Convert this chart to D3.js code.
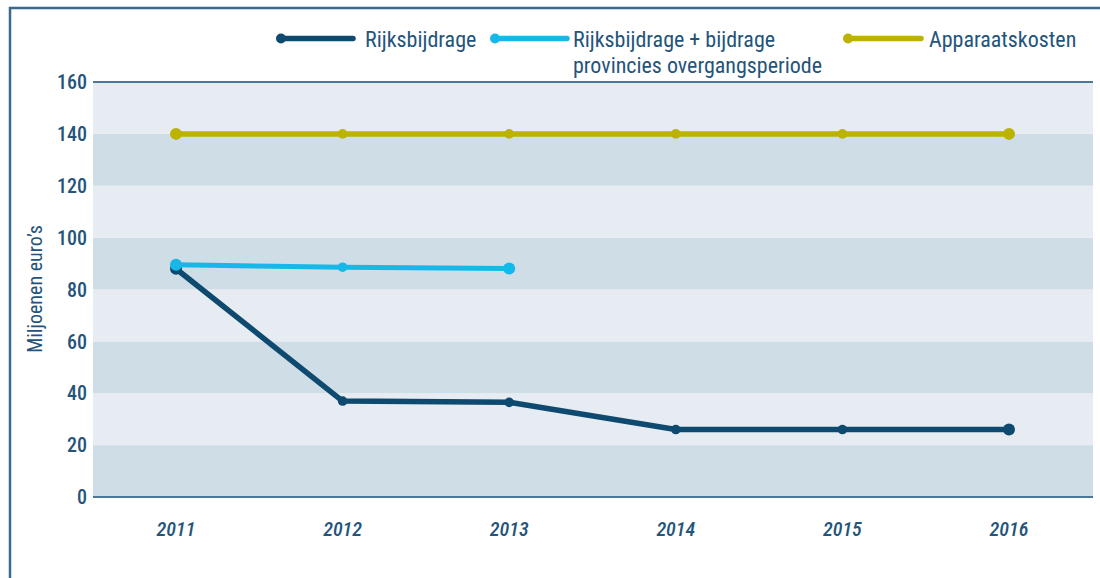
<!DOCTYPE html>
<html>
<head>
<meta charset="utf-8">
<script src="https://cdn.jsdelivr.net/npm/d3@7"></script>
<style>
  html, body { margin: 0; padding: 0; background: #fff; }
  svg { display: block; }
  text { font-family: "Roboto Condensed", Roboto, sans-serif; fill: #24547a; }
</style>
</head>
<body>
<div id="chart"></div>
<script>
// ----- Data -----
const years           = [2011, 2012, 2013, 2014, 2015, 2016];
const rijksbijdrage   = [88, 37, 36.5, 26, 26, 26];
const overgangYears   = [2011, 2012, 2013];
const overgang        = [89.5, 88.6, 88.1];
const apparaatskosten = [140, 140, 140, 140, 140, 140];
const yTicks          = [0, 20, 40, 60, 80, 100, 120, 140, 160];

const series = [
  { x: years, values: rijksbijdrage, color: "#0e4a6f", width: 5.5 },
  { x: overgangYears, values: overgang, color: "#17b8e8", width: 5 },
  { x: years, values: apparaatskosten, color: "#bbb300", width: 5.5 }
];

const legendLabels = [
  ["Rijksbijdrage"],
  ["Rijksbijdrage + bijdrage", "provincies overgangsperiode"],
  ["Apparaatskosten"]
];

// ----- Layout -----
const width  = 1100;
const height = 578;
const margin = { top: 82, left: 93, right: 7 };
const innerWidth  = width - margin.left - margin.right;
const innerHeight = 497 - margin.top;

const svg = d3.select("#chart")
  .append("svg")
  .attr("width", width)
  .attr("height", height);

// frame (left + top edge)
svg.append("path")
  .attr("d", `M10,${height} L10,8 L${width},8`)
  .attr("fill", "none")
  .attr("stroke", "#3a6a8d")
  .attr("stroke-width", 2.5);

const g = svg.append("g")
  .attr("transform", `translate(${margin.left},${margin.top})`);

const x = d3.scaleLinear()
  .domain([2011, 2016])
  .range([176 - margin.left, 1009 - margin.left]);

const y = d3.scaleLinear()
  .domain([0, 160])
  .range([innerHeight, 0]);

// background bands
const bands = d3.range(0, 160, 20);
g.selectAll(".band")
  .data(bands)
  .enter()
  .append("rect")
  .attr("x", 0)
  .attr("width", innerWidth)
  .attr("y", d => y(d + 20))
  .attr("height", d => y(d) - y(d + 20))
  .attr("fill", d => (d / 20) % 2 === 0 ? "#cfdde7" : "#e6ecf1");

// top and bottom rules
[0, 160].forEach(v => {
  g.append("line")
    .attr("x1", 0).attr("x2", innerWidth)
    .attr("y1", y(v)).attr("y2", y(v))
    .attr("stroke", "#4a7896")
    .attr("stroke-width", 2);
});

// y tick labels (placed in svg coords)
svg.selectAll(".ytick")
  .data(yTicks)
  .enter()
  .append("text")
  .attr("class", "ytick")
  .attr("x", margin.left - 6)
  .attr("y", d => margin.top + y(d))
  .attr("dy", "0.36em")
  .attr("text-anchor", "end")
  .attr("font-size", 20)
  .attr("font-weight", 500)
  .text(d => d);

// x tick labels
svg.selectAll(".xtick")
  .data(years)
  .enter()
  .append("text")
  .attr("class", "xtick")
  .attr("x", d => margin.left + x(d))
  .attr("y", margin.top + innerHeight + 39)
  .attr("text-anchor", "middle")
  .attr("font-size", 20)
  .attr("font-style", "italic")
  .attr("font-weight", 500)
  .text(d => d);

// y axis title
svg.append("text")
  .attr("transform", "translate(42,289) rotate(-90)")
  .attr("text-anchor", "middle")
  .attr("font-family", "'Liberation Sans', Arial, sans-serif")
  .attr("font-size", 20)
  .text("Miljoenen euro\u2019s");

// lines
const line = d3.line()
  .x(d => x(d[0]))
  .y(d => y(d[1]));

series.forEach(s => {
  const pts = s.x.map((yr, i) => [yr, s.values[i]]);
  g.append("path")
    .datum(pts)
    .attr("fill", "none")
    .attr("stroke", s.color)
    .attr("stroke-width", s.width)
    .attr("stroke-linejoin", "round")
    .attr("stroke-linecap", "round")
    .attr("d", line);

  g.selectAll(null)
    .data(pts)
    .enter()
    .append("circle")
    .attr("cx", d => x(d[0]))
    .attr("cy", d => y(d[1]))
    .attr("r", (d, i) => (i === 0 || i === pts.length - 1) ? 6 : 4.8)
    .attr("fill", s.color);
});

// legend
const legendPos = [
  { x1: 281, x2: 353, tx: 365 },
  { x1: 495, x2: 567, tx: 573 },
  { x1: 848, x2: 921, tx: 929 }
];

legendPos.forEach((p, i) => {
  const s = series[i];
  svg.append("line")
    .attr("x1", p.x1).attr("x2", p.x2)
    .attr("y1", 38.5).attr("y2", 38.5)
    .attr("stroke", s.color)
    .attr("stroke-width", 5.5)
    .attr("stroke-linecap", "round");
  svg.append("circle")
    .attr("cx", p.x1).attr("cy", 38.5).attr("r", 5)
    .attr("fill", s.color);
  legendLabels[i].forEach((t, j) => {
    svg.append("text")
      .attr("x", p.tx)
      .attr("y", 47 + j * 26)
      .attr("font-size", 22)
      .text(t);
  });
});
</script>
</body>
</html>
